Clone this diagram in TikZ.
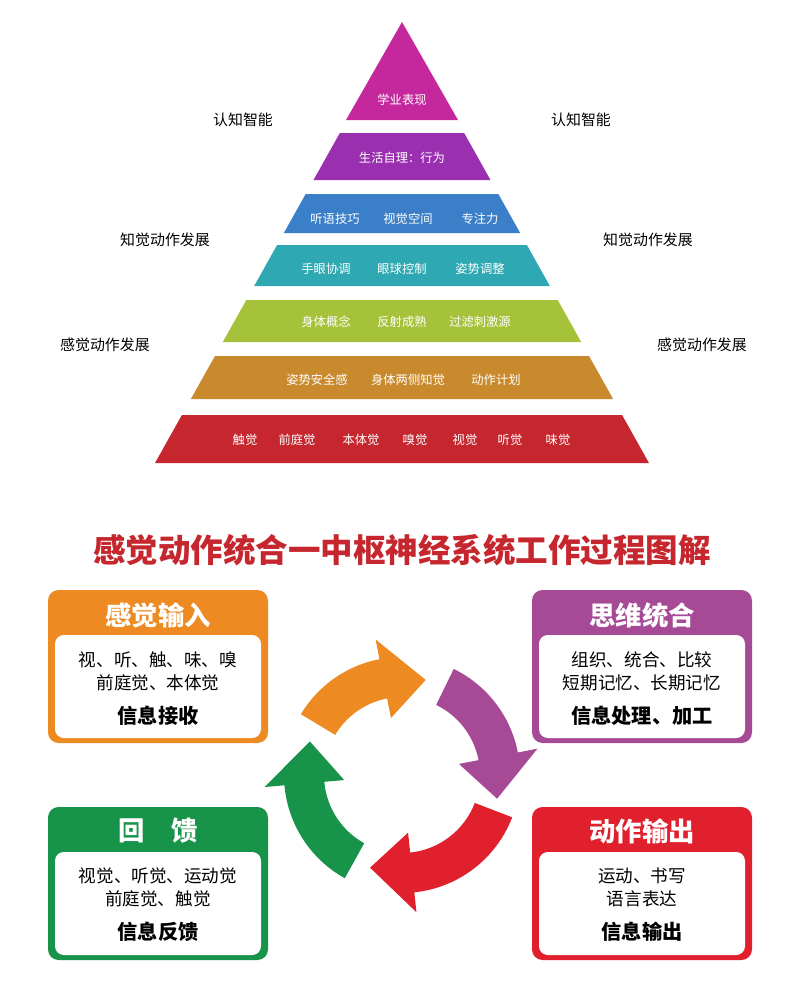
\documentclass[tikz,border=0pt]{standalone}
\usepackage{fontspec}
\setmainfont{Noto Sans CJK SC}
\usetikzlibrary{positioning}
\definecolor{tmagenta}{HTML}{C4289C}
\definecolor{tpurple}{HTML}{9A30B0}
\definecolor{tblue}{HTML}{3B7FC8}
\definecolor{tteal}{HTML}{2EA8B2}
\definecolor{tlime}{HTML}{A6C23A}
\definecolor{tbrown}{HTML}{C98A2E}
\definecolor{tred}{HTML}{C6262E}
\definecolor{borange}{HTML}{EE8A22}
\definecolor{bpurple}{HTML}{A64A96}
\definecolor{bgreen}{HTML}{17934A}
\definecolor{bred}{HTML}{E0202C}
\tikzstyle{band}=[text=white, font=\fontsize{7}{8}\selectfont]
\tikzstyle{side}=[font=\fontsize{8.5}{10}\selectfont]
\tikzstyle{head}=[text=white, font=\fontsize{15}{17}\bfseries]
\tikzstyle{body}=[align=center, font=\fontsize{10}{13}\selectfont]
\tikzstyle{info}=[font=\fontsize{11.5}{13}\bfseries]
\newcommand{\cyclearrow}[3]{%
  \pgfmathsetmacro{\neck}{#3-25}
  \fill[#1] (#2:78) arc[start angle=#2, end angle=\neck, radius=78]
    -- (\neck:58) -- (#3:98) -- (\neck:138) -- (\neck:118)
    arc[start angle=\neck, end angle=#2, radius=118] -- cycle;}
\newcommand{\infobox}[2]{%
  \fill[#2, rounded corners=6] (#1) ++(-110,-75) rectangle ++(220,153);
  \fill[white, rounded corners=5] (#1) ++(-103,-30) rectangle ++(206,103);}

\begin{document}
\begin{tikzpicture}[x=0.02cm, y=-0.02cm]
  \useasboundingbox (0,0) rectangle (800,998);
  % pyramid
  \fill[tmagenta] (402,22) -- (458,120) -- (346,120) -- cycle;
  \foreach \ya/\yb/\col in {133/180/tpurple, 194/233/tblue, 245/286/tteal,
                            300/342/tlime, 356/399/tbrown, 415/463/tred}
    \fill[\col] ({402-(\ya-22)*0.56},\ya) -- ({402+(\ya-22)*0.56},\ya)
      -- ({402+(\yb-22)*0.56},\yb) -- ({402-(\yb-22)*0.56},\yb) -- cycle;

  \node[band] (p1) at (402,100) {学业表现};
  \node[band] (p2) at (402,158) {生活自理：行为};
  \node[band] (p3a) at (335,219) {听语技巧};
  \node[band] (p3b) at (408,219) {视觉空间};
  \node[band] (p3c) at (480,219) {专注力};
  \node[band] (p4a) at (326,269) {手眼协调};
  \node[band] (p4b) at (402,269) {眼球控制};
  \node[band] (p4c) at (480,269) {姿势调整};
  \node[band] (p5a) at (326,322) {身体概念};
  \node[band] (p5b) at (402,322) {反射成熟};
  \node[band] (p5c) at (480,322) {过滤刺激源};
  \node[band] (p6a) at (317,380) {姿势安全感};
  \node[band] (p6b) at (408,380) {身体两侧知觉};
  \node[band] (p6c) at (496,380) {动作计划};
  \foreach \x/\t [count=\i] in {245/触觉, 297/前庭觉, 361/本体觉, 415/嗅觉,
                                465/视觉, 510/听觉, 558/味觉}
    \node[band] (p7\i) at (\x,440) {\t};

  \node[side] (l1) at (243,120) {认知智能};
  \node[side] (r1) at (581,120) {认知智能};
  \node[side] (l2) at (165,240) {知觉动作发展};
  \node[side] (r2) at (648,240) {知觉动作发展};
  \node[side] (l3) at (105,345) {感觉动作发展};
  \node[side] (r3) at (702,345) {感觉动作发展};

  % title
  \node[text=tred, font=\fontsize{18.5}{20}\bfseries] (title) at (402,550)
    {感觉动作统合一中枢神经系统工作过程图解};

  % boxes
  \coordinate (bi) at (158,665);
  \coordinate (bt) at (642,665);
  \coordinate (bf) at (158,882);
  \coordinate (bo) at (642,882);
  \infobox{bi}{borange}
  \infobox{bt}{bpurple}
  \infobox{bf}{bgreen}
  \infobox{bo}{bred}

  \node[head] (hi) at (158,615) {感觉输入};
  \node[body] (ti) at (158,671) {视、听、触、味、嗅\\前庭觉、本体觉};
  \node[info] (ii) at (158,716) {信息接收};
  \node[head] (ht) at (642,615) {思维统合};
  \node[body] (tt) at (642,671) {组织、统合、比较\\短期记忆、长期记忆};
  \node[info] (it) at (642,716) {信息处理、加工};
  \node[head] (hf) at (158,831) {回\quad 馈};
  \node[body] (tf) at (158,887) {视觉、听觉、运动觉\\前庭觉、触觉};
  \node[info] (if) at (158,932) {信息反馈};
  \node[head] (ho) at (642,831) {动作输出};
  \node[body] (to) at (642,887) {运动、书写\\语言表达};
  \node[info] (io) at (642,932) {信息输出};

  % cycle arrows
  \begin{scope}[shift={(402,775)}]
    \cyclearrow{borange}{211}{284}
    \cyclearrow{bpurple}{296}{374}
    \cyclearrow{bred}{21}{109}
    \cyclearrow{bgreen}{119}{200}
  \end{scope}
\end{tikzpicture}
\end{document}
